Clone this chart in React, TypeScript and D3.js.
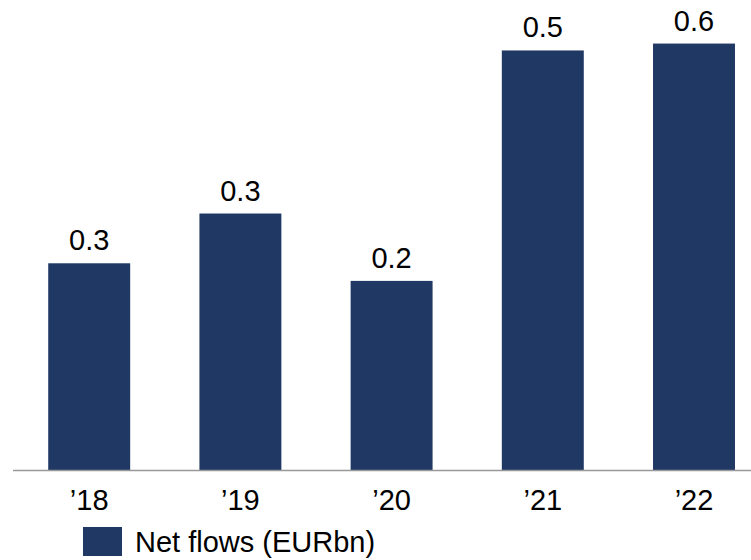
import React from "react";
import * as d3 from "d3";

const categories = ["’18", "’19", "’20", "’21", "’22"];
const netFlows = [0.27, 0.335, 0.247, 0.548, 0.557];
const legendLabel = "Net flows (EURbn)";

const W = 751;
const H = 560;
const BASE = 470;
const BAR = "#203864";
const FONT = "'Liberation Sans', Arial, sans-serif";
const FS = 29;

export default function App() {
  const x = d3
    .scaleBand<string>()
    .domain(categories)
    .range([13.6, 769.6])
    .paddingInner(0.458)
    .paddingOuter(0.229);
  const y = d3.scaleLinear().domain([0, 0.6]).range([BASE, BASE - 0.6 * 765.6]);
  const fmt = d3.format(".1f");

  return (
    <svg
      width={W}
      height={H}
      style={{ position: "absolute", left: 0, top: 0, background: "#fff" }}
      fontFamily={FONT}
    >
      {categories.map((c, i) => (
        <g key={c}>
          <rect
            x={x(c)!}
            y={y(netFlows[i])}
            width={x.bandwidth()}
            height={BASE - y(netFlows[i])}
            fill={BAR}
          />
          <text
            x={x(c)! + x.bandwidth() / 2}
            y={y(netFlows[i]) - 13}
            textAnchor="middle"
            fontSize={FS}
            fill="#000"
          >
            {fmt(netFlows[i])}
          </text>
          <text
            x={x(c)! + x.bandwidth() / 2}
            y={510}
            textAnchor="middle"
            fontSize={FS}
            fill="#000"
          >
            {c}
          </text>
        </g>
      ))}
      <line x1={13} x2={W} y1={BASE + 0.5} y2={BASE + 0.5} stroke="#999" strokeWidth={1.5} />
      <rect x={83} y={527} width={39} height={29} fill={BAR} />
      <text x={135} y={551.5} fontSize={FS} fill="#000">
        {legendLabel}
      </text>
    </svg>
  );
}
